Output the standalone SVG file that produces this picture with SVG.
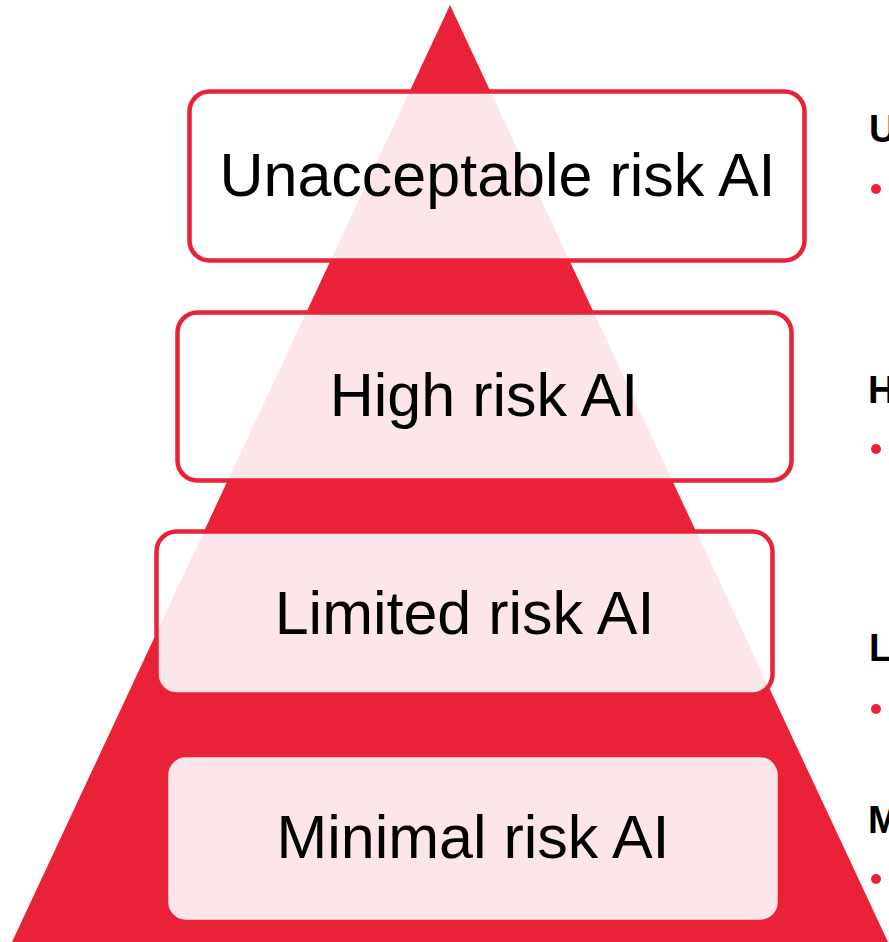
<svg xmlns="http://www.w3.org/2000/svg" width="889" height="942" viewBox="0 0 889 942">
<style>
.box{fill:#ffffff;fill-opacity:0.89;stroke:#E92237;stroke-width:4.5}
.lbl{font-family:"Liberation Sans",Arial,sans-serif;font-size:61px;fill:#000000;text-anchor:middle}
.side{font-family:"Liberation Sans",Arial,sans-serif;font-size:38px;font-weight:bold;fill:#000000}
.dot{fill:#E92237}
</style>
<rect width="889" height="942" fill="#ffffff"/>
<g id="pyramid">
<polygon points="450,5 12,942 888,942" fill="#E92237"/>
</g>
<g id="unacceptable">
<rect class="box" x="189.5" y="91.5" width="615" height="169" rx="20"/>
<text class="lbl" x="497.5" y="196">Unacceptable risk AI</text>
</g>
<g id="high">
<rect class="box" x="177.5" y="312.5" width="614" height="168" rx="20"/>
<text class="lbl" x="484" y="416">High risk AI</text>
</g>
<g id="limited">
<rect class="box" x="156.5" y="531.5" width="616" height="163" rx="20"/>
<text class="lbl" x="464.5" y="634">Limited risk AI</text>
</g>
<g id="minimal">
<rect class="box" x="166" y="755" width="614" height="167" rx="20"/>
<text class="lbl" x="473" y="858">Minimal risk AI</text>
</g>
<g id="side-labels">
<text class="side" x="869" y="142">U</text>
<circle class="dot" cx="876" cy="189" r="5"/>
<text class="side" x="868" y="403">H</text>
<circle class="dot" cx="876" cy="449" r="5"/>
<text class="side" x="869" y="661">L</text>
<circle class="dot" cx="876" cy="709" r="5"/>
<text class="side" x="868" y="833">M</text>
<circle class="dot" cx="876" cy="879" r="5"/>
</g>
<g id="connectors"></g>
</svg>
